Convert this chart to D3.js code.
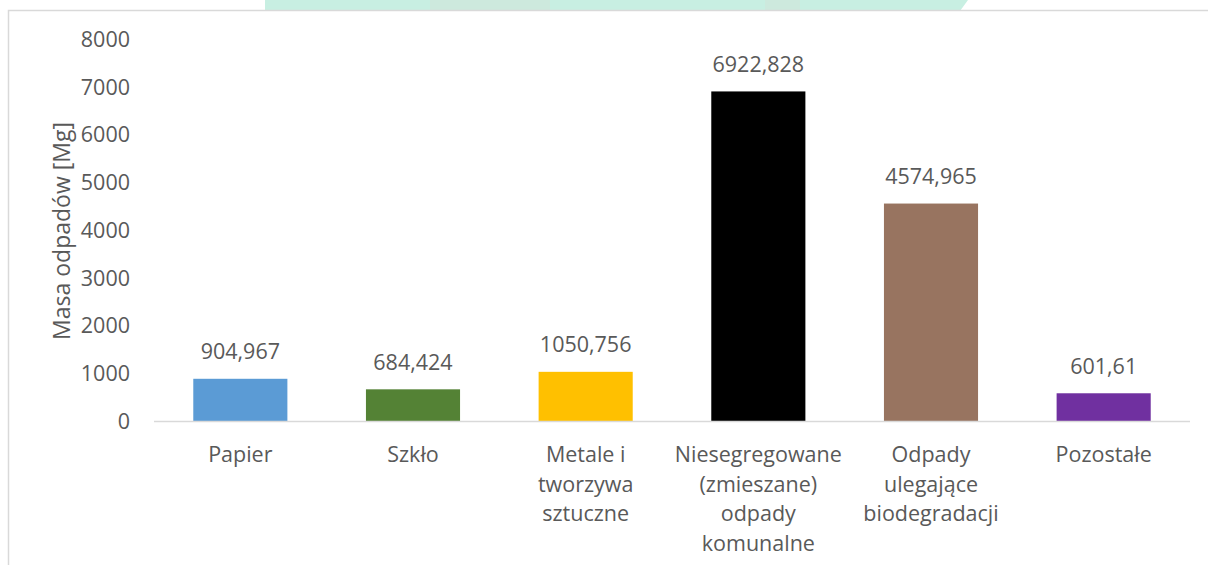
<!DOCTYPE html>
<html>
<head>
<meta charset="utf-8">
<script src="https://cdn.jsdelivr.net/npm/d3@7"></script>
<style>
  html, body { margin: 0; padding: 0; background: #ffffff; }
  svg { display: block; }
  text { font-family: "Open Sans", "Noto Sans", sans-serif; fill: #595959; }
</style>
</head>
<body>
<svg id="chart" width="1208" height="565"></svg>
<script>
const categories = [
  ["Papier"],
  ["Szkło"],
  ["Metale i", "tworzywa", "sztuczne"],
  ["Niesegregowane", "(zmieszane)", "odpady", "komunalne"],
  ["Odpady", "ulegające", "biodegradacji"],
  ["Pozostałe"]
];
const values = [904.967, 684.424, 1050.756, 6922.828, 4574.965, 601.61];
const valueLabels = ["904,967", "684,424", "1050,756", "6922,828", "4574,965", "601,61"];
const colors = ["#5b9bd5", "#548235", "#ffc000", "#000000", "#987460", "#7030a0"];
const yTicks = [0, 1000, 2000, 3000, 4000, 5000, 6000, 7000, 8000];
const yTitle = "Masa odpadów [Mg]";

const svg = d3.select("#chart");

// faint decorative background strip at the top (from the source page)
svg.append("path")
  .attr("d", "M265,0 L968,0 L960,11 L265,11 Z")
  .attr("fill", "#c8efe2");
svg.append("rect").attr("x", 430).attr("y", 0).attr("width", 120).attr("height", 10)
  .attr("fill", "#e8c8c0").attr("opacity", 0.15);
svg.append("rect").attr("x", 765).attr("y", 0).attr("width", 35).attr("height", 10)
  .attr("fill", "#e8c8c0").attr("opacity", 0.15);

// chart frame
svg.append("rect")
  .attr("x", 8.5).attr("y", 10.5)
  .attr("width", 1300).attr("height", 700)
  .attr("fill", "#ffffff")
  .attr("stroke", "#d9d9d9").attr("stroke-width", 1.5);

const x = d3.scaleBand()
  .domain(d3.range(categories.length))
  .range([154, 1190])
  .paddingInner(0.455)
  .paddingOuter(0.2275);

const y = d3.scaleLinear()
  .domain([0, 8000])
  .range([422, 40]);

const fs = "21.5px";

// y tick labels
const yAxis = d3.axisLeft(y).tickValues(yTicks).tickSize(0).tickPadding(0).tickFormat(d3.format("d"));
const gy = svg.append("g").attr("transform", "translate(130,0)").call(yAxis);
gy.select(".domain").remove();
gy.selectAll("text")
  .attr("font-size", fs)
  .attr("font-family", "Open Sans")
  .attr("fill", "#595959")
  .attr("dy", "0.3em");

// bars
svg.append("g").selectAll("rect")
  .data(values)
  .join("rect")
  .attr("x", (d, i) => x(i))
  .attr("width", x.bandwidth())
  .attr("y", d => y(d))
  .attr("height", d => y(0) - y(d))
  .attr("fill", (d, i) => colors[i]);

// x axis line
svg.append("line")
  .attr("x1", 154).attr("x2", 1190)
  .attr("y1", y(0) - 0.5).attr("y2", y(0) - 0.5)
  .attr("stroke", "#d9d9d9").attr("stroke-width", 1.5);

// value labels
svg.append("g").selectAll("text")
  .data(values)
  .join("text")
  .attr("x", (d, i) => x(i) + x.bandwidth() / 2)
  .attr("y", d => y(d) - 19.5)
  .attr("text-anchor", "middle")
  .attr("font-size", fs)
  .text((d, i) => valueLabels[i]);

// category labels
const cl = svg.append("g").selectAll("text")
  .data(categories)
  .join("text")
  .attr("x", (d, i) => x(i) + x.bandwidth() / 2)
  .attr("y", 462)
  .attr("text-anchor", "middle")
  .attr("font-size", fs);
cl.selectAll("tspan")
  .data(d => d)
  .join("tspan")
  .attr("x", function() { return d3.select(this.parentNode).attr("x"); })
  .attr("dy", (d, j) => j === 0 ? 0 : 29.5)
  .text(d => d);

// y axis title
svg.append("text")
  .attr("transform", "translate(62,231) rotate(-90)")
  .attr("text-anchor", "middle")
  .attr("dy", "0.35em")
  .attr("font-size", "23px")
  .text(yTitle);
</script>
</body>
</html>
